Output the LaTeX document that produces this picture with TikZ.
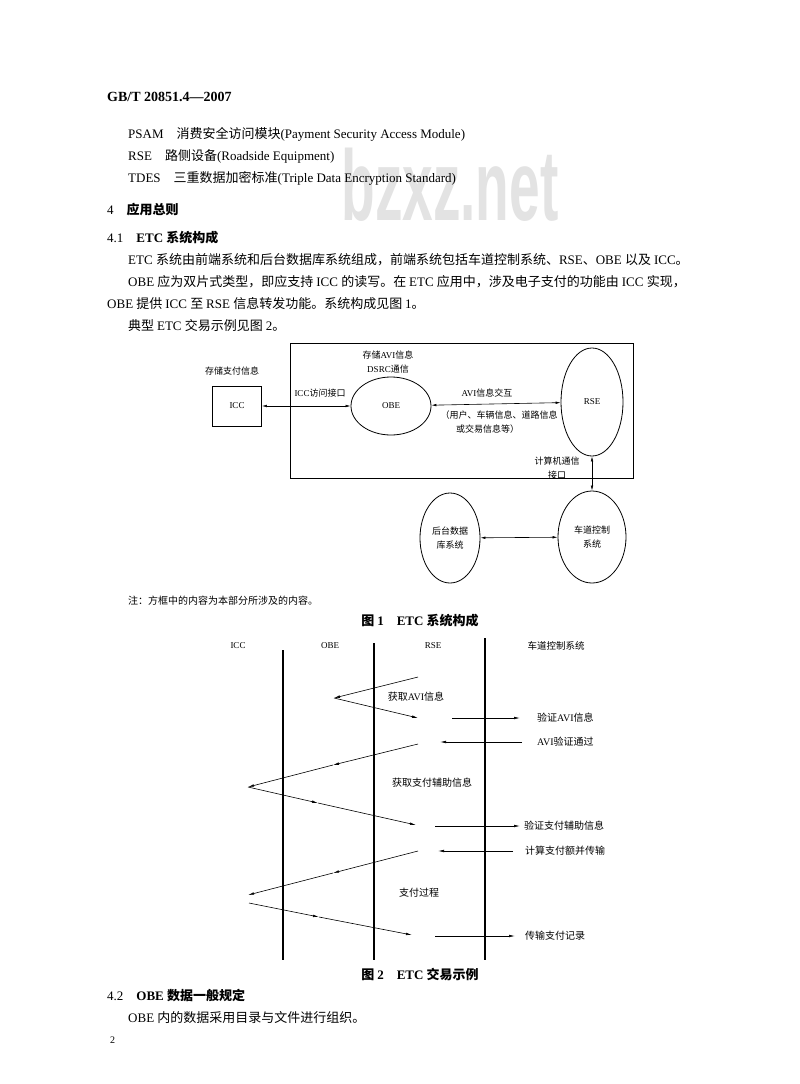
\documentclass[tikz,border=0pt]{standalone}
\usepackage{fontspec}
\usepackage{tikz}
\usetikzlibrary{positioning,arrows.meta,shapes.geometric}
\setmainfont{Liberation Serif}
\newfontfamily\latinfont{Liberation Serif}
\newfontfamily\cjk{Noto Sans CJK SC}
\newfontfamily\wmfont{Liberation Sans}
% pick the CJK face whenever the text runs into Chinese characters
\newXeTeXintercharclass\cjkclass
\makeatletter
\count@="3000 \loop\ifnum\count@<"3040 \XeTeXcharclass\count@=\cjkclass \advance\count@ 1 \repeat
\count@="4E00 \loop\ifnum\count@<"A000 \XeTeXcharclass\count@=\cjkclass \advance\count@ 1 \repeat
\count@="FF00 \loop\ifnum\count@<"FFF0 \XeTeXcharclass\count@=\cjkclass \advance\count@ 1 \repeat
\makeatother
\XeTeXinterchartokenstate=1
\XeTeXinterchartoks 0 \cjkclass = {\cjk}
\XeTeXinterchartoks 4095 \cjkclass = {\cjk}
\XeTeXinterchartoks \cjkclass 0 = {\latinfont}
\XeTeXinterchartoks 4095 0 = {\latinfont}
\tikzset{
  bodytext/.style={anchor=west, inner sep=0pt, font=\fontsize{13}{16}\selectfont},
  headtext/.style={anchor=west, inner sep=0pt, font=\fontsize{13}{16}\selectfont\bfseries},
  captext/.style={inner sep=0pt, font=\fontsize{13}{16}\selectfont\bfseries},
  notetext/.style={anchor=west, inner sep=0pt, font=\fontsize{10}{12}\selectfont},
  figlabel/.style={inner sep=0pt, align=center, font=\fontsize{9}{14}\selectfont},
  msglabel/.style={anchor=west, inner sep=0pt, font=\fontsize{10}{12}\selectfont},
  iccbox/.style={draw, line width=0.8pt, minimum width=49pt, minimum height=40pt, inner sep=0pt, font=\fontsize{9}{11}\selectfont},
  ellnode/.style={draw, ellipse, line width=0.8pt, inner sep=0pt, align=center, font=\fontsize{9}{14}\selectfont},
  framebox/.style={draw, line width=0.8pt, minimum width=343pt, minimum height=135pt, inner sep=0pt},
  dblarrow/.style={{Latex[length=5pt,width=2.6pt]}-{Latex[length=5pt,width=2.6pt]}, line width=0.6pt},
  msgarrow/.style={-{Latex[length=6pt,width=2.6pt]}, line width=0.6pt},
  lifeline/.style={line width=1.3pt},
  wmark/.style={inner sep=0pt, text=black!11, xscale=0.55, font=\fontsize{100}{100}\selectfont}
}

\begin{document}
\begin{tikzpicture}[x=1pt, y=-1pt]
  \useasboundingbox[fill=white] (0,0) rectangle (800,1084);
  % watermark
  \node[wmark] (wm) at (450,185) {\XeTeXinterchartokenstate=0 \wmfont\bfseries bzxz.net};
  % page text
  \node[bodytext, font=\fontsize{14}{16}\selectfont\bfseries] (hdr) at (107,97) {GB/T 20851.4—2007};
  \node[bodytext] (psam) at (128,134) {PSAM\quad 消费安全访问模块(Payment Security Access Module)};
  \node[bodytext] (rsedef) at (128,156) {RSE\quad 路侧设备(Roadside Equipment)};
  \node[bodytext] (tdes) at (128,178) {TDES\quad 三重数据加密标准(Triple Data Encryption Standard)};
  \node[headtext] (sec4) at (107,210) {\mdseries 4\quad \bfseries 应用总则};
  \node[headtext] (sec41) at (107,238) {\mdseries 4.1\quad \bfseries ETC 系统构成};
  \node[bodytext] (par1) at (128,260) {ETC 系统由前端系统和后台数据库系统组成，前端系统包括车道控制系统、RSE、OBE 以及 ICC。};
  \node[bodytext] (par2) at (128,282) {OBE 应为双片式类型，即应支持 ICC 的读写。在 ETC 应用中，涉及电子支付的功能由 ICC 实现，};
  \node[bodytext] (par3) at (107,304) {OBE 提供 ICC 至 RSE 信息转发功能。系统构成见图 1。};
  \node[bodytext] (par4) at (128,326) {典型 ETC 交易示例见图 2。};

  % figure 1
  \node[framebox] (front) at (461.5,410.5) {};
  \node[figlabel] (paylbl) at (232,371) {存储支付信息};
  \node[iccbox] (icc) at (237,406) {ICC};
  \node[ellnode, minimum width=80pt, minimum height=58pt] (obe) at (391,406) {OBE};
  \node[figlabel] (obelbl) at (388,362) {存储AVI信息\\DSRC通信};
  \node[figlabel] (ifclbl) at (320,393) {ICC访问接口};
  \node[ellnode, minimum width=62pt, minimum height=108pt] (rsenode) at (592,402) {RSE};
  \node[figlabel] (avilbl) at (487,393) {AVI信息交互};
  \node[figlabel] (avinote) at (499,415) {（用户、车辆信息、道路信息};
  \node[figlabel, anchor=west] (avinote2) at (456,429) {或交易信息等）};
  \node[figlabel] (commlbl) at (557,468) {计算机通信\\接口};
  \node[ellnode, minimum width=60pt, minimum height=90pt] (dbsys) at (450,538) {后台数据\\库系统};
  \node[ellnode, minimum width=68pt, minimum height=92pt] (lanesys) at (592,537) {车道控制\\系统};
  \draw[dblarrow] (icc) -- (obe);
  \draw[dblarrow] (obe) -- (rsenode);
  \draw[dblarrow] (rsenode) -- (lanesys);
  \draw[dblarrow] (lanesys) -- (dbsys);
  \node[notetext] (fignote) at (128,601) {注：方框中的内容为本部分所涉及的内容。};
  \node[captext] (cap1) at (420,621) {图 1\quad ETC 系统构成};

  % figure 2
  \node[figlabel] (iccl) at (238,646) {ICC};
  \node[figlabel] (obel) at (330,646) {OBE};
  \node[figlabel] (rsel) at (433,646) {RSE};
  \node[figlabel, font=\fontsize{9.5}{12}\selectfont] (lanel) at (556,646) {车道控制系统};
  \coordinate (l1t) at (283,650); \coordinate (l1b) at (283,960);
  \coordinate (l2t) at (374,643); \coordinate (l2b) at (374,960);
  \coordinate (l3t) at (485,638); \coordinate (l3b) at (485,960);
  \draw[lifeline] (l1t) -- (l1b);
  \draw[lifeline] (l2t) -- (l2b);
  \draw[lifeline] (l3t) -- (l3b);

  \coordinate (z1a) at (418,677); \coordinate (z1b) at (334,698); \coordinate (z1c) at (418,718);
  \draw[msgarrow] (z1a) -- (z1b);
  \draw[msgarrow] (z1b) -- (z1c);
  \node[figlabel, font=\fontsize{10}{12}\selectfont] (z1lbl) at (416,697) {获取AVI信息};

  \coordinate (r1a) at (452,718); \coordinate (r1b) at (520,718);
  \draw[msgarrow] (r1a) -- (r1b);
  \node[msglabel] (r1lbl) at (537,718) {验证AVI信息};
  \coordinate (r2a) at (522,742); \coordinate (r2b) at (440,742);
  \draw[msgarrow] (r2a) -- (r2b);
  \node[msglabel] (r2lbl) at (537,742) {AVI验证通过};

  \coordinate (z2a) at (418,744); \coordinate (z2b) at (333,765); \coordinate (z2c) at (248,787);
  \coordinate (z2d) at (318,803); \coordinate (z2e) at (416,825);
  \draw[msgarrow] (z2a) -- (z2b);
  \draw[msgarrow] (z2b) -- (z2c);
  \draw[msgarrow] (z2c) -- (z2d);
  \draw[msgarrow] (z2d) -- (z2e);
  \node[figlabel, font=\fontsize{10}{12}\selectfont] (z2lbl) at (432,783) {获取支付辅助信息};

  \coordinate (r3a) at (435,826); \coordinate (r3b) at (520,826);
  \draw[msgarrow] (r3a) -- (r3b);
  \node[msglabel] (r3lbl) at (524,826) {验证支付辅助信息};
  \coordinate (r4a) at (513,851); \coordinate (r4b) at (438,851);
  \draw[msgarrow] (r4a) -- (r4b);
  \node[msglabel] (r4lbl) at (525,851) {计算支付额并传输};

  \coordinate (z3a) at (418,851); \coordinate (z3b) at (333,873); \coordinate (z3c) at (248,895);
  \coordinate (z3d) at (249,903); \coordinate (z3e) at (319,917); \coordinate (z3f) at (412,935);
  \draw[msgarrow] (z3a) -- (z3b);
  \draw[msgarrow] (z3b) -- (z3c);
  \draw[msgarrow] (z3d) -- (z3e);
  \draw[msgarrow] (z3e) -- (z3f);
  \node[figlabel, font=\fontsize{10}{12}\selectfont] (z3lbl) at (419,893) {支付过程};

  \coordinate (r5a) at (435,936); \coordinate (r5b) at (515,936);
  \draw[msgarrow] (r5a) -- (r5b);
  \node[msglabel] (r5lbl) at (525,936) {传输支付记录};
  \node[captext] (cap2) at (420,975) {图 2\quad ETC 交易示例};

  \node[headtext] (sec42) at (107,996) {\mdseries 4.2\quad \bfseries OBE 数据一般规定};
  \node[bodytext] (par5) at (128,1018) {OBE 内的数据采用目录与文件进行组织。};
  \node[notetext] (pgno) at (110,1040) {2};
\end{tikzpicture}
\end{document}
